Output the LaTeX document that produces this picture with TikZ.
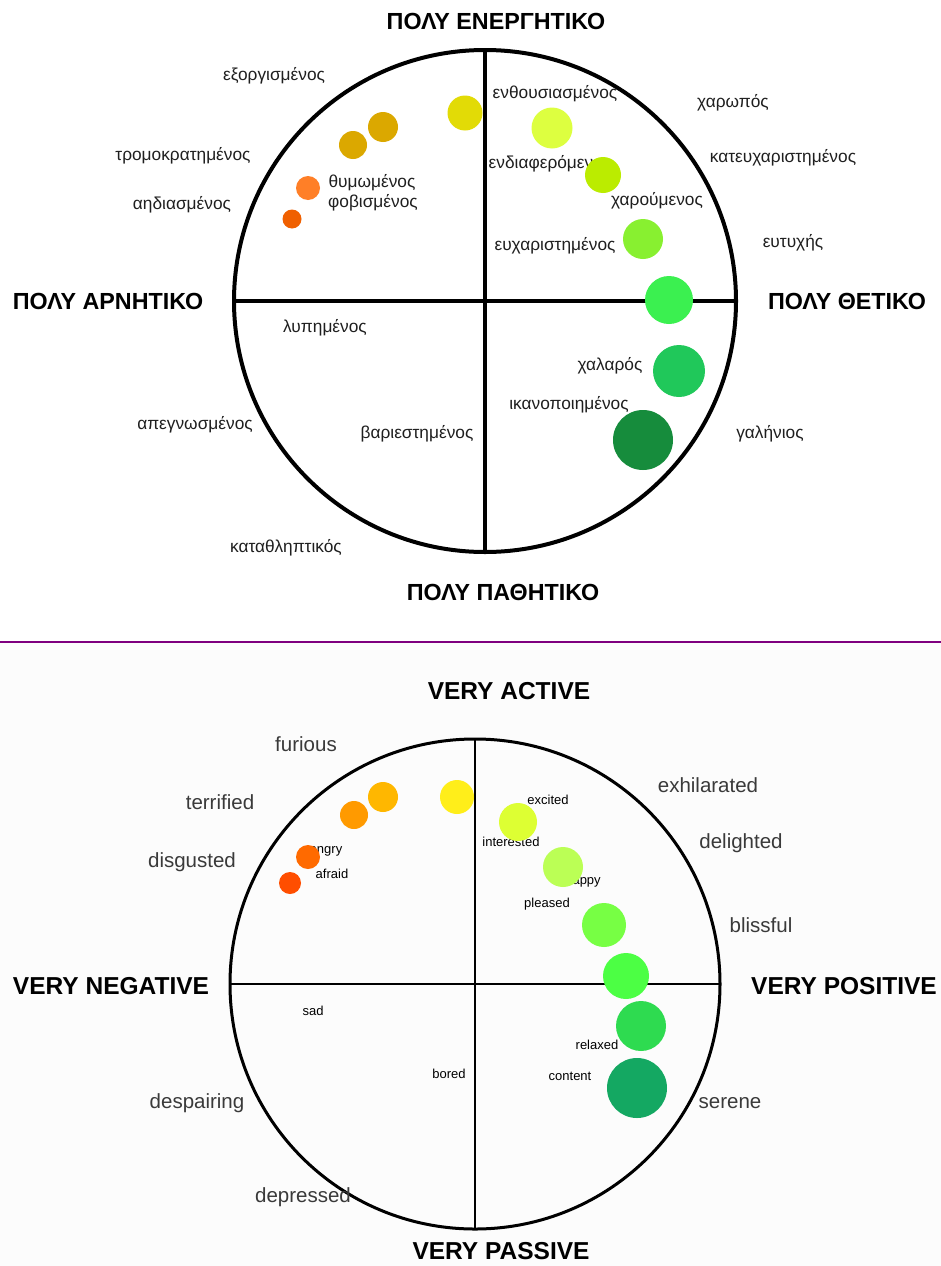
\documentclass[tikz,border=0pt]{standalone}
\usepackage{fontspec}
\setmainfont{Liberation Sans}
\definecolor{purp}{HTML}{7F007F}
\definecolor{bgb}{HTML}{FCFCFC}
\definecolor{txg}{HTML}{3A3A3A}
\begin{document}
\begin{tikzpicture}[x=1pt,y=-1pt,
  ring/.style={draw=black,circle,inner sep=0pt,outer sep=0pt},
  dot/.style={circle,inner sep=0pt,outer sep=0pt,draw=none},
  gl/.style={anchor=base,inner sep=0pt,text=black!88,font=\fontsize{17.3pt}{20pt}\selectfont},
  ttlg/.style={anchor=base,inner sep=0pt,text=black,font=\fontsize{23.3pt}{26pt}\selectfont\bfseries},
  ttle/.style={anchor=base,inner sep=0pt,text=black,font=\fontsize{24.5pt}{27pt}\selectfont\bfseries},
  en/.style={anchor=base,inner sep=0pt,text=txg,font=\fontsize{20.5pt}{23pt}\selectfont},
  sm/.style={anchor=base,inner sep=0pt,text=black,font=\fontsize{13pt}{15pt}\selectfont}]
\useasboundingbox (0,0) rectangle (941,1266);
\fill[white] (0,0) rectangle (941,642);
\fill[bgb] (0,642) rectangle (941,1266);
\coordinate (sepL) at (0,642);
\coordinate (sepR) at (941,642);
\draw[purp,line width=2.5pt] (sepL) -- (sepR);

% ---------------- top (Greek) ----------------
\node[ring,line width=4pt,minimum size=502pt] (ringA) at (485,301) {};
\draw[line width=3.5pt] (ringA.north) -- (ringA.south);
\draw[line width=3.5pt] (ringA.west) -- (ringA.east);

\node[ttlg] (tA1) at (496,29) {ΠΟΛΥ ΕΝΕΡΓΗΤΙΚΟ};
\node[ttlg] (tA2) at (108,309) {ΠΟΛΥ ΑΡΝΗΤΙΚΟ};
\node[ttlg] (tA3) at (847,309) {ΠΟΛΥ ΘΕΤΙΚΟ};
\node[ttlg] (tA4) at (503,600) {ΠΟΛΥ ΠΑΘΗΤΙΚΟ};

\node[gl] (g1) at (274,80) {εξοργισμένος};
\node[gl] (g2) at (183,160) {τρομοκρατημένος};
\node[gl] (g3) at (182,209) {αηδιασμένος};
\node[gl] (g4) at (372,187) {θυμωμένος};
\node[gl] (g5) at (373,207) {φοβισμένος};
\node[gl] (g6) at (555,98) {ενθουσιασμένος};
\node[gl] (g7) at (550,168) {ενδιαφερόμενος};
\node[gl] (g8) at (657,205) {χαρούμενος};
\node[gl] (g9) at (555,250) {ευχαριστημένος};
\node[gl] (g10) at (733,107) {χαρωπός};
\node[gl] (g11) at (783,162) {κατευχαριστημένος};
\node[gl] (g12) at (793,247) {ευτυχής};
\node[gl] (g13) at (325,332) {λυπημένος};
\node[gl] (g14) at (610,370) {χαλαρός};
\node[gl] (g15) at (569,409) {ικανοποιημένος};
\node[gl] (g16) at (770,438) {γαλήνιος};
\node[gl] (g17) at (195,429) {απεγνωσμένος};
\node[gl] (g18) at (417,438) {βαριεστημένος};
\node[gl] (g19) at (286,552) {καταθληπτικός};

\node[dot,fill={rgb,255:red,226;green,219;blue,6},minimum size=35pt] (a1) at (465,113) {};
\node[dot,fill={rgb,255:red,219;green,168;blue,0},minimum size=30pt] (a2) at (383,127) {};
\node[dot,fill={rgb,255:red,219;green,168;blue,0},minimum size=28pt] (a3) at (353,145) {};
\node[dot,fill={rgb,255:red,255;green,127;blue,39},minimum size=24pt] (a4) at (308,188) {};
\node[dot,fill={rgb,255:red,240;green,96;blue,0},minimum size=19pt] (a5) at (292,219) {};
\node[dot,fill={rgb,255:red,221;green,255;blue,64},minimum size=41pt] (a6) at (552,128) {};
\node[dot,fill={rgb,255:red,187;green,236;blue,0},minimum size=36pt] (a7) at (603,175) {};
\node[dot,fill={rgb,255:red,136;green,240;blue,48},minimum size=40pt] (a8) at (643,239) {};
\node[dot,fill={rgb,255:red,59;green,240;blue,80},minimum size=48pt] (a9) at (669,300) {};
\node[dot,fill={rgb,255:red,32;green,200;blue,90},minimum size=52pt] (a10) at (679,371) {};
\node[dot,fill={rgb,255:red,22;green,140;blue,60},minimum size=60pt] (a11) at (643,440) {};

% ---------------- bottom (English) ----------------
\node[ring,line width=3pt,minimum size=490pt] (ringB) at (475,984) {};
\draw[line width=2.5pt] (ringB.north) -- (ringB.south);
\draw[line width=2.5pt] (ringB.west) -- (ringB.east);

\node[ttle] (tB1) at (509,699) {VERY ACTIVE};
\node[ttle] (tB2) at (111,994) {VERY NEGATIVE};
\node[ttle] (tB3) at (844,994) {VERY POSITIVE};
\node[ttle] (tB4) at (501,1259) {VERY PASSIVE};

\node[en] (e1) at (306,751) {furious};
\node[en] (e2) at (220,809) {terrified};
\node[en] (e3) at (192,867) {disgusted};
\node[en] (e4) at (708,792) {exhilarated};
\node[en] (e5) at (741,848) {delighted};
\node[en] (e6) at (761,932) {blissful};
\node[en] (e7) at (197,1108) {despairing};
\node[en] (e8) at (303,1202) {depressed};
\node[en] (e9) at (730,1108) {serene};

\node[sm] (s1) at (548,804) {excited};
\node[sm] (s2) at (511,846) {interested};
\node[sm] (s3) at (583,884) {happy};
\node[sm] (s4) at (547,907) {pleased};
\node[sm] (s5) at (326,853) {angry};
\node[sm] (s6) at (332,878) {afraid};
\node[sm] (s7) at (313,1015) {sad};
\node[sm] (s8) at (449,1078) {bored};
\node[sm] (s9) at (597,1049) {relaxed};
\node[sm] (s10) at (570,1080) {content};

\node[dot,fill={rgb,255:red,255;green,238;blue,26},minimum size=34pt] (b1) at (457,797) {};
\node[dot,fill={rgb,255:red,255;green,183;blue,0},minimum size=30pt] (b2) at (383,797) {};
\node[dot,fill={rgb,255:red,255;green,154;blue,0},minimum size=28pt] (b3) at (354,815) {};
\node[dot,fill={rgb,255:red,255;green,106;blue,0},minimum size=24pt] (b4) at (308,857) {};
\node[dot,fill={rgb,255:red,255;green,78;blue,0},minimum size=22pt] (b5) at (290,883) {};
\node[dot,fill={rgb,255:red,221;green,255;blue,51},minimum size=38pt] (b6) at (518,822) {};
\node[dot,fill={rgb,255:red,187;green,255;blue,85},minimum size=40pt] (b7) at (563,867) {};
\node[dot,fill={rgb,255:red,119;green,255;blue,68},minimum size=44pt] (b8) at (604,925) {};
\node[dot,fill={rgb,255:red,76;green,255;blue,68},minimum size=46pt] (b9) at (626,976) {};
\node[dot,fill={rgb,255:red,46;green,219;blue,80},minimum size=50pt] (b10) at (641,1026) {};
\node[dot,fill={rgb,255:red,20;green,168;blue,98},minimum size=60pt] (b11) at (637,1088) {};
\end{tikzpicture}
\end{document}
